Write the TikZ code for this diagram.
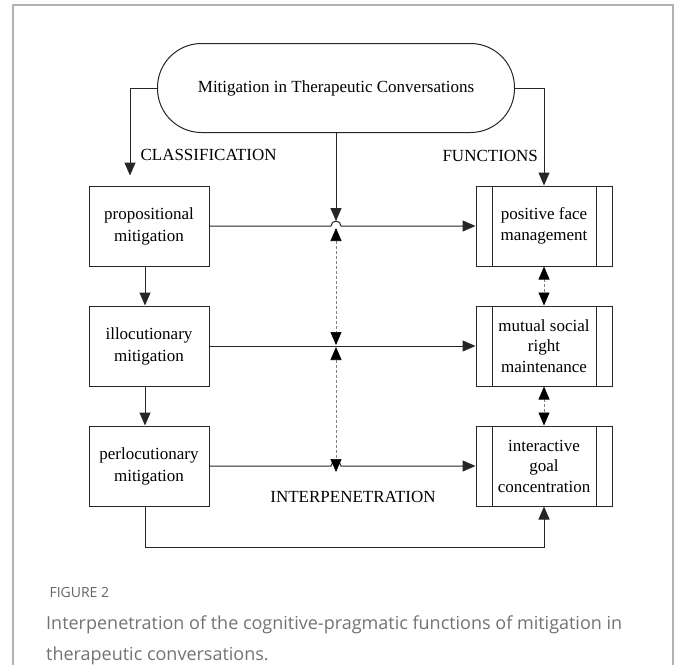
\documentclass[tikz,border=0pt]{standalone}
\usepackage{fontspec}
\setmainfont{Liberation Serif}
\newfontfamily\capfont{Open Sans}
\usetikzlibrary{arrows.meta}
\begin{document}
\begin{tikzpicture}[x=1pt,y=-1pt,
  ln/.style={line width=1pt, draw=black!85},
  arr/.style={ln, -{Triangle[length=13pt,width=11pt]}},
  dsh/.style={line width=0.6pt, draw=gray, dash pattern=on 3pt off 2pt,
     {Triangle[length=13pt,width=11pt,black]}-{Triangle[length=13pt,width=11pt,black]}},
  stadium/.style={ln, rounded corners=44pt, minimum width=357pt, minimum height=89pt, font=\fontsize{17}{20}\selectfont},
  lbox/.style={ln, minimum width=120pt, minimum height=80pt, align=center, font=\fontsize{17}{22}\selectfont},
  rbox/.style={ln, minimum width=136pt, minimum height=80pt, align=center, font=\fontsize{17}{20.5}\selectfont},
  lbl/.style={font=\fontsize{17}{18}\selectfont}
]
\useasboundingbox (0,0) rectangle (680,664);
\fill[white] (0,0) rectangle (680,664);
\draw[gray!60, line width=1.3pt] (13,700) -- (13,5) -- (673,5) -- (673,700);

\node[stadium, draw] (title) at (336,88) {Mitigation in Therapeutic Conversations};

\node[lbox, draw] (l1) at (149,226) {propositional\\mitigation};
\node[lbox, draw] (l2) at (149,346) {illocutionary\\mitigation};
\node[lbox, draw] (l3) at (149,466) {perlocutionary\\mitigation};

\node[rbox, draw] (r1) at (544,226) {positive face\\management};
\node[rbox, draw] (r2) at (544,346) {mutual social\\right\\maintenance};
\node[rbox, draw] (r3) at (544,466) {interactive\\goal\\concentration};
\foreach \n in {r1,r2,r3}{
  \draw[ln] ([xshift=17pt]\n.north west) -- ([xshift=17pt]\n.south west);
  \draw[ln] ([xshift=-16pt]\n.north east) -- ([xshift=-16pt]\n.south east);
}

\node[lbl, anchor=west] (cls) at (137,155) {CLASSIFICATION};
\node[lbl, anchor=west] (fun) at (439,156) {FUNCTIONS};
\node[lbl] (inter) at (353,497) {INTERPENETRATION};

% top connectors
\draw[arr] (title.west) -| ([xshift=-19pt,yshift=10pt]l1.north);
\draw[arr] (title.east) -| (r1.north);

% left chain
\draw[arr] ([xshift=-4pt]l1.south) -- ([xshift=-4pt]l2.north);
\draw[arr] ([xshift=-4pt]l2.south) -- ([xshift=-4pt]l3.north);

% horizontal arrows with hops
\coordinate (h1) at (336,226);
\coordinate (h2) at (336,346);
\coordinate (h3) at (336,466);
\draw[arr] (l1.east) -- ([xshift=-5pt]h1) arc[start angle=180,end angle=0,radius=5pt] -- (r1.west);
\draw[arr] (l2.east) -- (r2.west);
\draw[arr] (l3.east) -- ([xshift=-5pt]h3) arc[start angle=180,end angle=0,radius=5pt] -- (r3.west);

% middle vertical
\draw[arr] (title.south) -- ([yshift=5pt]h1);
\draw[dsh] ([yshift=-2pt]h1) -- ([yshift=1pt]h2);
\draw[dsh] ([yshift=-1pt]h2) -- ([yshift=-6pt]h3);

% right chain
\draw[dsh] (r1.south) -- (r2.north);
\draw[dsh] (r2.south) -- (r3.north);

% bottom loop
\draw[arr] ([xshift=-4pt]l3.south) -- ++(0,41) -| (r3.south);

% caption
\node[anchor=west, font=\capfont\fontsize{14}{16}\selectfont, text=black!60] (fig) at (46,592) {FIGURE 2};
\node[anchor=north west, align=left, inner sep=0pt, font=\capfont\fontsize{18}{31}\selectfont, text=black!55] (cap) at (46,616)
 {Interpenetration of the cognitive-pragmatic functions of mitigation in\\therapeutic conversations.};
\end{tikzpicture}
\end{document}
